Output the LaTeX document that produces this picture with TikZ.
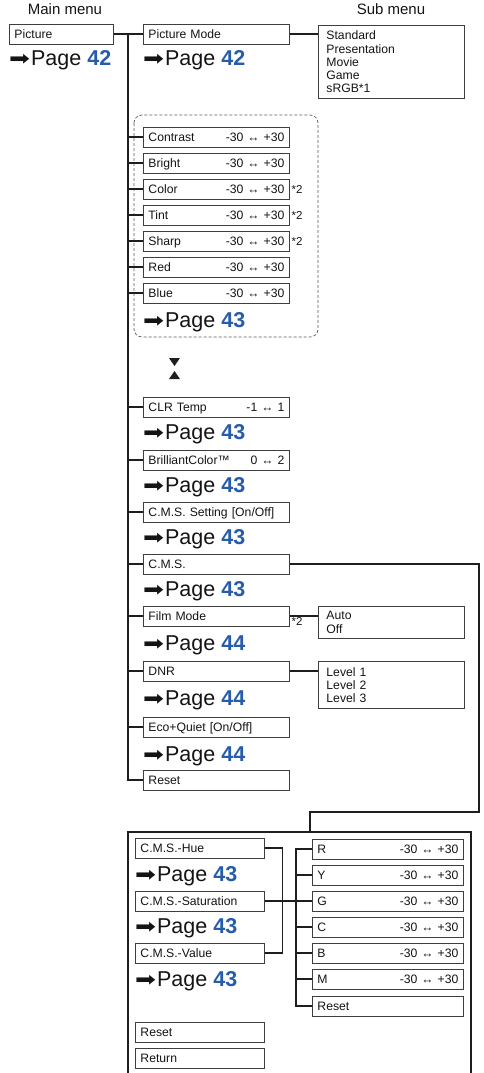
\documentclass[tikz,border=0pt]{standalone}
\usepackage{fontspec}
\setmainfont{Liberation Sans}
\newfontfamily\symbolfont{DejaVu Sans}
\usepackage{tikz}
\usetikzlibrary{positioning, calc}
\definecolor{pageblue}{RGB}{38,92,170}
\definecolor{boxline}{RGB}{62,62,62}
\definecolor{wireline}{RGB}{30,30,30}
\newcommand{\gopage}[1]{{\symbolfont\fontsize{20}{20}\selectfont\scalebox{1.25}[1]{➡}}\kern1pt Page \textcolor{pageblue}{\bfseries #1}}

\begin{document}
\begin{tikzpicture}[
    x=1pt, y=-1pt,
    font=\fontsize{12.2}{14}\selectfont, text=black!92,
    heading/.style={font=\fontsize{15}{18}\selectfont, anchor=base, inner sep=0pt},
    item/.style={rectangle, draw=boxline, line width=0.9pt, anchor=west, minimum height=20pt,
                 text width=#1, inner xsep=5pt, inner ysep=0pt, text height=9.4pt, text depth=0pt},
    item/.default=136pt,
    sublist/.style={rectangle, draw=boxline, line width=0.9pt, anchor=north west, minimum width=146pt,
                    text width=130pt, inner xsep=8pt, align=left, font=\fontsize{12.2}{13.3}\selectfont},
    pagelink/.style={anchor=base west, inner sep=0pt, font=\fontsize{21.5}{24}\selectfont},
    note/.style={anchor=west, inner sep=1.5pt, font=\fontsize{11.5}{13}\selectfont},
    wire/.style={draw=wireline, line width=1.1pt},
    group/.style={draw=boxline!85, line width=0.7pt, dash pattern=on 3pt off 2pt, rounded corners=8pt},
]
\useasboundingbox (0,0) rectangle (483,1073);

% --- headings ---
\node[heading] (mainhd) at (65,15)  {Main menu};
\node[heading] (subhd)  at (391,15) {Sub menu};

% --- main menu ---
\node[item=94pt] (pic) at (9,34) {Picture};
\node[pagelink] (pgpic) at (9,66) {\gopage{42}};

% --- picture mode + sub menu ---
\node[item] (picmode) at (143,34) {Picture Mode};
\node[pagelink] (pgmode) at (143,66) {\gopage{42}};
\node[sublist, minimum height=73pt] (modesub) at (318,25) {Standard\\Presentation\\Movie\\Game\\sRGB*1};

% --- adjustment group (dashed) ---
\draw[group] (134,115) rectangle (318,337);
\node[item] (contrast) at (143,137) {Contrast\hfill-30 ↔ +30};
\node[item] (bright)   at (143,163) {Bright\hfill-30 ↔ +30};
\node[item] (color)    at (143,189) {Color\hfill-30 ↔ +30};
\node[item] (tint)     at (143,215) {Tint\hfill-30 ↔ +30};
\node[item] (sharp)    at (143,241) {Sharp\hfill-30 ↔ +30};
\node[item] (red)      at (143,267) {Red\hfill-30 ↔ +30};
\node[item] (blue)     at (143,293) {Blue\hfill-30 ↔ +30};
\node[pagelink] (pgdash) at (143,327) {\gopage{43}};
\node[note] (ncolor) at (color.east) {*2};
\node[note] (ntint)  at (tint.east)  {*2};
\node[note] (nsharp) at (sharp.east) {*2};

% --- hourglass ---
\fill[wireline] (169,358) -- (180,358) -- (174.5,366) -- cycle;
\fill[wireline] (169,379) -- (180,379) -- (174.5,371) -- cycle;

% --- remaining items ---
\node[item] (clrtemp)   at (143,407) {CLR Temp\hfill-1 ↔ 1};
\node[pagelink] (pgclr) at (143,439) {\gopage{43}};
\node[item] (brilliant) at (143,460) {BrilliantColor™\hfill0 ↔ 2};
\node[pagelink] (pgbril) at (143,492) {\gopage{43}};
\node[item] (cmsset)    at (143,512) {C.M.S. Setting [On/Off]};
\node[pagelink] (pgcmsset) at (143,544) {\gopage{43}};
\node[item] (cms)       at (143,564) {C.M.S.};
\node[pagelink] (pgcms) at (143,596) {\gopage{43}};
\node[item] (film)      at (143,616) {Film Mode};
\node[pagelink] (pgfilm) at (143,650) {\gopage{44}};
\node[sublist, minimum height=32pt] (filmsub) at (318,606) {Auto\\Off};
\node[note, anchor=north west] (nfilm) at (film.east) {*2};
\node[item] (dnr)       at (143,671) {DNR};
\node[pagelink] (pgdnr) at (143,705) {\gopage{44}};
\node[sublist, minimum height=47pt] (dnrsub) at (318,661) {Level 1\\Level 2\\Level 3};
\node[item] (eco)       at (143,727) {Eco+Quiet [On/Off]};
\node[pagelink] (pgeco) at (143,761) {\gopage{44}};
\node[item] (reset)     at (143,780) {Reset};

% --- C.M.S. frame ---
\draw[wire] (128,1073) |- (471,832) -- (471,1073);
\coordinate (cmsbend)  at (479,812);
\coordinate (frametop) at (310,832);
\node[item=119pt] (hue) at (135,848) {C.M.S.-Hue};
\node[pagelink] (pghue) at (135,881) {\gopage{43}};
\node[item=119pt] (sat) at (135,901) {C.M.S.-Saturation};
\node[pagelink] (pgsat) at (135,933) {\gopage{43}};
\node[item=119pt] (val) at (135,953) {C.M.S.-Value};
\node[pagelink] (pgval) at (135,986) {\gopage{43}};
\node[item=119pt] (cmsreset)  at (135,1032) {Reset};
\node[item=119pt] (cmsreturn) at (135,1058) {Return};

\node[item=141pt] (r) at (312,849)  {R\hfill-30 ↔ +30};
\node[item=141pt] (y) at (312,875)  {Y\hfill-30 ↔ +30};
\node[item=141pt] (g) at (312,901)  {G\hfill-30 ↔ +30};
\node[item=141pt] (c) at (312,927)  {C\hfill-30 ↔ +30};
\node[item=141pt] (b) at (312,953)  {B\hfill-30 ↔ +30};
\node[item=141pt] (m) at (312,979)  {M\hfill-30 ↔ +30};
\node[item=141pt] (rgbreset) at (312,1006) {Reset};

% --- wires: main trunk ---
\coordinate (trunk) at (128,34);
\draw[wire] (pic.east) -- (picmode.west);
\draw[wire] (picmode.east) -- (modesub.west |- picmode.east);
\draw[wire] (trunk) |- (reset.west);
\foreach \n in {contrast,bright,color,tint,sharp,red,blue,clrtemp,brilliant,cmsset,cms,film,dnr,eco}
  \draw[wire] (trunk |- \n.west) -- (\n.west);
\draw[wire] (film.east) -- (filmsub.west |- film.east);
\draw[wire] (dnr.east) -- (dnrsub.west |- dnr.east);
\draw[wire] (cms.east) -| (cmsbend) -| (frametop);

% --- wires: C.M.S. ---
\draw[wire] (hue.east) -- ++(18,0) |- (val.east);
\draw[wire] (sat.east) -- (g.west);
\coordinate (rgbtrunk) at (296,849);
\draw[wire] (r.west) -- (rgbtrunk) |- (rgbreset.west);
\foreach \n in {y,c,b,m}
  \draw[wire] (rgbtrunk |- \n.west) -- (\n.west);
\end{tikzpicture}
\end{document}
